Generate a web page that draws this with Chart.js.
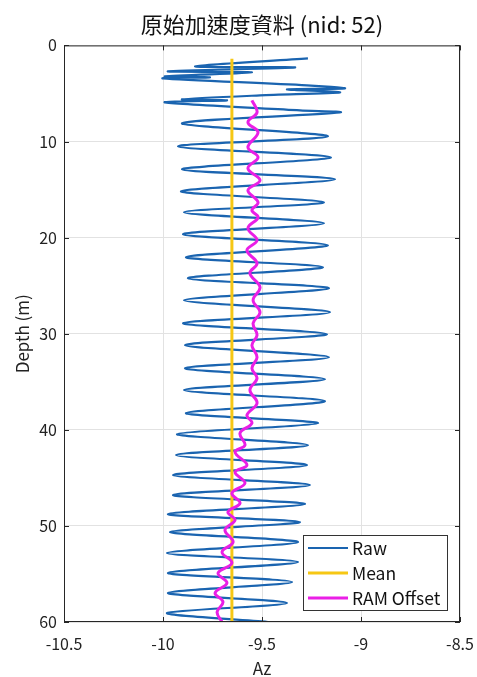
<!DOCTYPE html>
<html>
<head>
<meta charset="utf-8">
<script src="https://cdn.jsdelivr.net/npm/chart.js@4.4.1/dist/chart.umd.min.js"></script>
<style>
  html, body { margin: 0; padding: 0; background: #fff; }
  #wrap { width: 477px; height: 677px; }
</style>
</head>
<body>
<div id="wrap"><canvas id="chart" width="477" height="677"></canvas></div>
<script>
// Raw acceleration trace (turning points)
const rawDepth = [1.35, 2.18, 2.29, 2.70, 2.81, 3.22, 3.33, 3.43, 4.16, 4.47, 4.58, 4.89, 5.20, 5.62, 5.72, 5.93, 6.76, 6.97,
    8.11, 9.46, 10.50, 11.65, 12.89, 13.93, 15.18, 16.33, 17.36, 18.51, 19.65, 20.80, 22.04, 23.08, 24.23, 25.27,
    26.52, 27.76, 28.91, 30.05, 31.19, 32.44, 33.59, 34.73, 35.87, 37.02, 38.27, 39.31, 40.45, 41.59, 42.63, 43.67,
    44.71, 45.75, 46.79, 47.73, 48.77, 49.60, 50.64, 51.68, 52.82, 53.76, 54.90, 55.84, 56.98, 58.02, 59.06, 60.0];
const rawAz = [-9.268, -9.838, -9.333, -9.975, -9.551, -9.990, -9.763, -10.0, -9.273, -9.081, -9.374, -9.106, -9.510, -9.904, -9.677, -9.990, -9.308, -9.106,
    -9.904, -9.167, -9.924, -9.152, -9.904, -9.131, -9.909, -9.187, -9.894, -9.187, -9.899, -9.167, -9.884, -9.192, -9.874, -9.162,
    -9.894, -9.157, -9.899, -9.172, -9.889, -9.162, -9.889, -9.182, -9.894, -9.182, -9.884, -9.217, -9.929, -9.268, -9.934, -9.273,
    -9.949, -9.258, -9.949, -9.283, -9.975, -9.308, -9.965, -9.318, -9.980, -9.318, -9.975, -9.348, -9.975, -9.374, -9.980, -9.470];

// Mean value line
const meanDepth = [1.4, 60];
const meanAz = [-9.652, -9.652];

// RAM offset curve
const ramDepth = [5.72, 6.97, 8.01, 9.05, 10.61, 11.65, 12.79, 14.04, 15.08, 16.33, 17.16, 17.89, 19.03, 20.28, 21.32, 22.67,
    23.71, 25.16, 26.51, 27.76, 28.91, 30.15, 31.19, 32.44, 33.59, 34.63, 35.87, 37.22, 38.47, 39.31, 40.35, 41.60,
    42.32, 43.67, 44.40, 45.55, 46.59, 47.63, 48.56, 49.39, 50.43, 51.68, 52.72, 53.86, 54.90, 55.94, 56.98, 57.92, 58.96, 60.0];
const ramAz = [-9.551, -9.525, -9.571, -9.520, -9.571, -9.520, -9.571, -9.510, -9.571, -9.520, -9.551, -9.520, -9.571, -9.525, -9.576, -9.525,
    -9.561, -9.510, -9.545, -9.510, -9.545, -9.525, -9.551, -9.525, -9.551, -9.525, -9.561, -9.525, -9.576, -9.551, -9.611, -9.586,
    -9.636, -9.576, -9.636, -9.586, -9.652, -9.611, -9.672, -9.636, -9.687, -9.646, -9.702, -9.652, -9.722, -9.677, -9.737, -9.697, -9.727, -9.702];

const seriesNames = ['Raw', 'Mean', 'RAM Offset'];
const xTicks = [-10.5, -10, -9.5, -9, -8.5];
const yTicks = [0, 10, 20, 30, 40, 50, 60];

const FONT = "'Noto Sans CJK TC', 'Noto Sans', sans-serif";
const BLUE = '#1a64b0';
const YELLOW = '#f6c714';
const MAGENTA = '#ea1fe6';

function toPoints(xs, ys) {
    return xs.map((x, i) => ({ x: x, y: ys[i] }));
}

// box around the axes with inward tick marks, like matlab
const boxPlugin = {
    id: 'box',
    afterDraw(chart) {
        const { ctx, chartArea: a, scales } = chart;
        ctx.save();
        ctx.strokeStyle = '#262626';
        ctx.lineWidth = 1;
        ctx.strokeRect(a.left + 0.5, a.top + 0.5, a.width - 1, a.height - 1);
        ctx.beginPath();
        xTicks.forEach(v => {
            const px = Math.round(scales.x.getPixelForValue(v)) + 0.5;
            ctx.moveTo(px, a.bottom); ctx.lineTo(px, a.bottom - 5);
            ctx.moveTo(px, a.top); ctx.lineTo(px, a.top + 5);
        });
        yTicks.forEach(v => {
            const py = Math.round(scales.y.getPixelForValue(v)) + 0.5;
            ctx.moveTo(a.left, py); ctx.lineTo(a.left + 5, py);
            ctx.moveTo(a.right, py); ctx.lineTo(a.right - 5, py);
        });
        ctx.stroke();

        // legend box in the lower right corner
        const lx = 303, ly = 535, lw = 144, lh = 75;
        ctx.fillStyle = '#fff';
        ctx.fillRect(lx, ly, lw, lh);
        ctx.strokeStyle = '#333';
        ctx.strokeRect(lx + 0.5, ly + 0.5, lw, lh);
        ctx.font = '17.5px ' + FONT;
        ctx.textBaseline = 'middle';
        ctx.textAlign = 'left';
        chart.data.datasets.forEach((ds, i) => {
            const y = ly + 13 + i * 25;
            ctx.strokeStyle = ds.borderColor;
            ctx.lineWidth = ds.borderWidth;
            ctx.beginPath();
            ctx.moveTo(lx + 5, y); ctx.lineTo(lx + 45, y);
            ctx.stroke();
            ctx.fillStyle = '#111';
            ctx.fillText(ds.label, lx + 49, y);
        });
        ctx.restore();
    }
};

new Chart(document.getElementById('chart'), {
    type: 'line',
    data: {
        datasets: [{
            label: seriesNames[0],
            data: toPoints(rawAz, rawDepth),
            borderColor: BLUE,
            borderWidth: 2.2,
            tension: 0.3,
            pointRadius: 0,
            order: 3
        }, {
            label: seriesNames[1],
            data: toPoints(meanAz, meanDepth),
            borderColor: YELLOW,
            borderWidth: 3,
            pointRadius: 0,
            order: 2
        }, {
            label: seriesNames[2],
            data: toPoints(ramAz, ramDepth),
            borderColor: MAGENTA,
            borderWidth: 3,
            tension: 0.4,
            pointRadius: 0,
            order: 1
        }]
    },
    options: {
        responsive: false,
        animation: false,
        layout: { padding: { left: 0, right: 17, top: 0, bottom: 0 } },
        plugins: {
            legend: { display: false },
            tooltip: { enabled: false },
            title: {
                display: true,
                fullSize: false,
                text: '原始加速度資料 (nid: 52)',
                color: '#111',
                font: { family: FONT, size: 22, weight: 'normal', lineHeight: 1.2 },
                padding: { top: 11, bottom: 8 }
            }
        },
        scales: {
            x: {
                type: 'linear',
                min: -10.5,
                max: -8.5,
                afterBuildTicks: s => { s.ticks = xTicks.map(v => ({ value: v })); },
                afterFit: s => {
                    s.height = 55;
                    s.paddingLeft = 0;
                    s.paddingRight = 0;
                },
                grid: { color: '#e2e2e2', drawTicks: false },
                border: { display: false },
                ticks: {
                    color: '#222',
                    padding: 12,
                    font: { family: FONT, size: 16 },
                    callback: v => String(v)
                },
                title: {
                    display: true,
                    text: 'Az',
                    color: '#222',
                    font: { family: FONT, size: 17, lineHeight: 1 },
                    padding: { top: 0, bottom: 0 }
                }
            },
            y: {
                type: 'linear',
                reverse: true,
                min: 0,
                max: 60,
                afterBuildTicks: s => { s.ticks = yTicks.map(v => ({ value: v })); },
                afterFit: s => { s.width = 64; },
                grid: { color: '#e2e2e2', drawTicks: false },
                border: { display: false },
                ticks: { color: '#222', padding: 7, font: { family: FONT, size: 16 } },
                title: {
                    display: true,
                    text: 'Depth (m)',
                    color: '#222',
                    font: { family: FONT, size: 17, lineHeight: 1.2 },
                    padding: { top: 12, bottom: 0 }
                }
            }
        }
    },
    plugins: [boxPlugin]
});
</script>
</body>
</html>
